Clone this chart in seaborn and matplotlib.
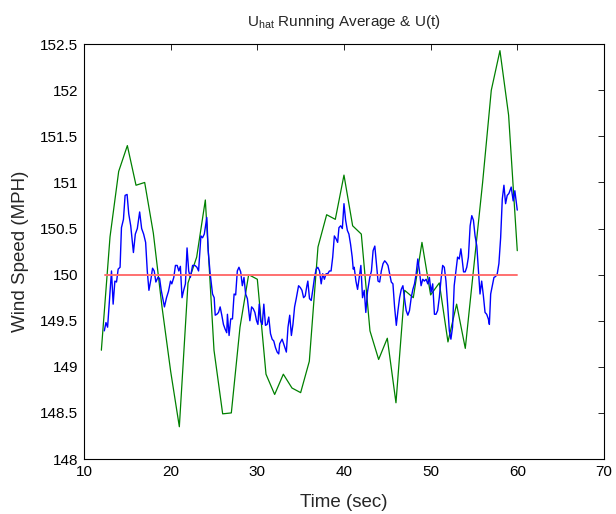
import matplotlib
matplotlib.use("Agg")
import matplotlib.pyplot as plt
import seaborn as sns
import pandas as pd
from matplotlib.ticker import FormatStrFormatter, MultipleLocator

# ---- data ----
green_t = list(range(12, 61))
green_v = [149.18, 150.41, 151.12, 151.40, 150.97, 151.00, 150.45, 149.65, 148.95, 148.35,
           149.91, 150.19, 150.81, 149.18, 148.49, 148.50, 149.43, 150.00, 149.95, 148.92,
           148.70, 148.92, 148.77, 148.72, 149.06, 150.30, 150.65, 150.60, 151.08, 150.53,
           150.44, 149.39, 149.08, 149.31, 148.61, 149.83, 149.75, 150.35, 149.78, 149.91,
           149.27, 149.68, 149.20, 150.10, 151.00, 152.00, 152.43, 151.73, 150.26]

blue_t = [12.34, 12.53, 12.72, 12.94, 13.17, 13.36, 13.56, 13.75, 13.94, 14.16,
          14.32, 14.55, 14.74, 14.97, 15.16, 15.39, 15.7, 15.92, 16.15, 16.42,
          16.65, 16.88, 17.11, 17.3, 17.49, 17.72, 17.91, 18.1, 18.29, 18.53,
          18.72, 18.91, 19.13, 19.28, 19.52, 19.75, 19.98, 20.13, 20.36, 20.55,
          20.75, 20.94, 21.12, 21.31, 21.5, 21.7, 21.89, 22.08,
          22.27, 22.53, 22.8, 23.03, 23.22, 23.49, 23.68, 23.88, 24.17, 24.33,
          24.56, 24.83, 25.02, 25.14, 25.33, 25.52, 25.71, 25.9, 26.09, 26.28,
          26.47, 26.55, 26.74, 26.93, 27.13, 27.32, 27.5, 27.69, 27.88, 28.08,
          28.27, 28.46, 28.65, 28.85, 29.14, 29.34, 29.53, 29.72, 29.91, 30.07,
          30.22, 30.37, 30.57, 30.75, 30.94, 31.13, 31.32, 31.52, 31.71, 31.9,
          32.09, 32.29, 32.47,
          32.58, 32.86, 33.04, 33.35, 33.54, 33.74, 33.93, 34.11, 34.3, 34.49,
          34.76, 34.96, 35.15, 35.34, 35.53, 35.72, 35.83, 36.02, 36.22, 36.41,
          36.6, 36.79, 36.98, 37.18, 37.37, 37.55, 37.74, 37.94, 38.13, 38.32,
          38.51, 38.7, 38.89, 39.08, 39.27, 39.42, 39.62, 39.81, 40.0, 40.19,
          40.39, 40.57, 40.76, 40.95, 41.07, 41.18, 41.38, 41.57, 41.76, 41.95,
          42.14, 42.34, 42.52, 42.71,
          42.98, 43.17, 43.36, 43.56, 43.75, 43.93, 44.12, 44.31, 44.51, 44.7,
          44.89, 45.08, 45.27, 45.46, 45.65, 45.84, 46.04, 46.23, 46.42, 46.61,
          46.8, 46.99, 47.18, 47.37, 47.56, 47.76, 47.95, 48.14, 48.33, 48.52,
          48.71, 48.9, 49.09, 49.28, 49.48, 49.67, 49.86, 50.05, 50.24, 50.44,
          50.62, 50.81, 51.0, 51.2, 51.39, 51.58, 51.77, 51.96, 52.16, 52.34,
          52.53, 52.72, 52.99,
          53.11, 53.3, 53.49, 53.61, 53.8, 53.99, 54.17, 54.36, 54.56, 54.75,
          54.94, 55.13, 55.33, 55.52, 55.7, 55.89, 56.09, 56.28, 56.47, 56.66,
          56.78, 56.93, 57.12, 57.31, 57.5, 57.69, 57.88, 58.08, 58.27, 58.46,
          58.65, 58.84, 59.03, 59.3, 59.53, 59.72, 60.0]
blue_v = [149.39, 149.48, 149.43, 149.72, 150.04, 149.68, 149.93, 149.92, 150.06, 150.08,
          150.51, 150.60, 150.86, 150.87, 150.66, 150.53, 150.24, 150.44, 150.50, 150.68,
          150.50, 150.44, 150.35, 150.04, 149.83, 149.95, 150.07, 150.04, 149.92, 149.97,
          149.96, 149.83, 149.72, 149.65, 149.75, 149.82, 149.93, 149.90, 149.97, 150.10,
          150.10, 150.04, 150.09, 149.75, 149.83, 149.90, 150.29, 150.04,
          149.97, 150.10, 150.10, 150.08, 150.04, 150.42, 150.40, 150.44, 150.62, 150.26,
          150.01, 149.79, 149.75, 149.56, 149.57, 149.59, 149.65, 149.56, 149.46, 149.41,
          149.37, 149.57, 149.34, 149.52, 149.52, 149.79, 149.78, 150.04, 150.08, 150.03,
          149.88, 149.97, 149.79, 149.74, 149.50, 149.65, 149.63, 149.59, 149.50, 149.46,
          149.68, 149.50, 149.46, 149.68, 149.45, 149.46, 149.54, 149.36, 149.30, 149.28,
          149.21, 149.16, 149.14,
          149.25, 149.30, 149.25, 149.16, 149.43, 149.56, 149.34, 149.46, 149.65, 149.74,
          149.88, 149.86, 149.83, 149.75, 149.77, 149.88, 149.93, 149.74, 149.72, 149.84,
          149.97, 150.06, 150.08, 150.04, 149.90, 150.01, 149.95, 150.01, 150.01, 150.04,
          150.04, 150.19, 150.42, 150.39, 150.35, 150.51, 150.53, 150.50, 150.77, 150.59,
          150.48, 150.44, 150.33, 150.19, 150.06, 150.08, 149.93, 149.84, 149.97, 150.10,
          149.75, 149.83, 149.59, 149.81,
          149.97, 150.04, 150.26, 150.31, 150.12, 149.93, 149.92, 150.04, 150.12, 150.15,
          150.13, 150.10, 150.01, 149.92, 149.90, 149.65, 149.45, 149.61, 149.75, 149.84,
          149.88, 149.74, 149.61, 149.56, 149.61, 149.75, 149.84, 149.90, 150.01, 150.17,
          150.04, 149.88, 149.95, 149.93, 149.95, 149.90, 149.97, 149.81, 149.90, 149.57,
          149.57, 149.61, 149.75, 149.95, 150.10, 150.08, 149.93, 149.68, 149.39, 149.30,
          149.43, 149.88, 150.10,
          150.19, 150.17, 150.28, 150.19, 150.03, 150.03, 150.08, 150.19, 150.53, 150.64,
          150.59, 150.42, 150.31, 150.04, 149.79, 149.93, 149.77, 149.59, 149.57, 149.52,
          149.46, 149.79, 149.88, 149.97, 149.98, 150.01, 150.12, 150.40, 150.82, 150.97,
          150.77, 150.86, 150.88, 150.95, 150.80, 150.91, 150.70]

red_t = [12.4, 60.0]
red_v = [150.0, 150.0]

x_ticks = [10, 20, 30, 40, 50, 60, 70]

# ---- style ----
sns.set_style("white")
plt.rcParams['font.family'] = ['Liberation Sans', 'DejaVu Sans']
plt.rcParams['mathtext.default'] = 'regular'

fig = plt.figure(figsize=(6.16, 5.14), dpi=100)
ax = fig.add_axes([0.1364, 0.107, 0.844, 0.807])

sns.lineplot(x=green_t, y=green_v, color='#008000', lw=0.9, ax=ax, sort=False, estimator=None)
sns.lineplot(x=blue_t, y=blue_v, color='#0000ff', lw=1.0, ax=ax, sort=False, estimator=None)
sns.lineplot(x=red_t, y=red_v, color='#ff7070', lw=1.4, ax=ax, sort=False, estimator=None)

ax.set_xlim(10, 70)
ax.set_ylim(148, 152.5)
ax.set_xticks(x_ticks)
ax.yaxis.set_major_locator(MultipleLocator(0.5))
ax.yaxis.set_major_formatter(FormatStrFormatter('%g'))
ax.tick_params(direction='in', top=True, right=True, length=4, width=0.6,
               labelsize=11, colors='black', pad=4)
for s in ax.spines.values():
    s.set_color('black')
    s.set_linewidth(0.8)

ax.set_xlabel('Time (sec)', fontsize=13.5, labelpad=11)
ax.set_ylabel('Wind Speed (MPH)', fontsize=13.5, labelpad=8)
ax.set_title('$U_{hat}$ Running Average & U(t)', fontsize=11, pad=13)

fig.savefig('out.png', dpi=100)
